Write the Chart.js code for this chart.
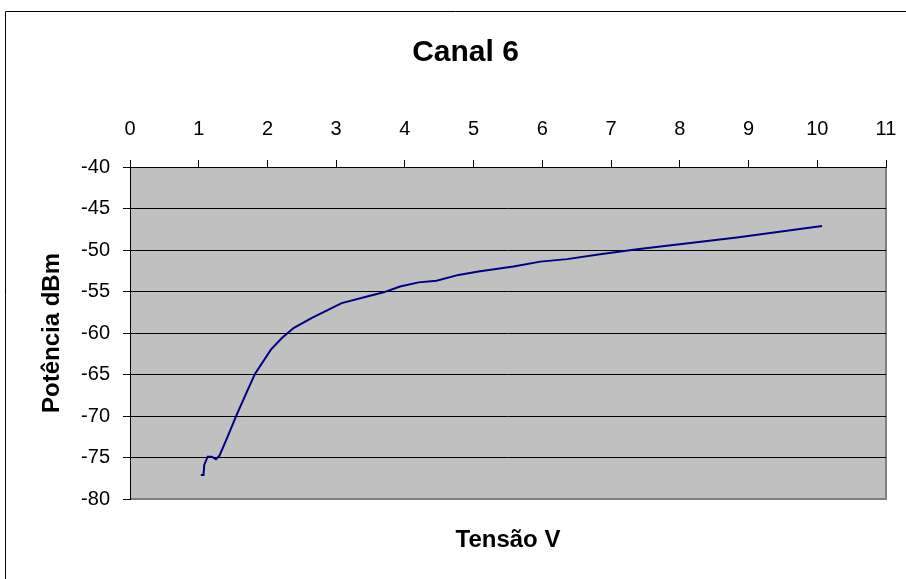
<!DOCTYPE html>
<html>
<head>
<meta charset="utf-8">
<script src="https://cdn.jsdelivr.net/npm/chart.js@4/dist/chart.umd.min.js"></script>
<style>
  html, body { margin: 0; padding: 0; background: #ffffff; }
  #wrap { width: 906px; height: 579px; position: relative; }
</style>
</head>
<body>
<div id="wrap"><canvas id="c" width="906" height="579"></canvas></div>
<script>
const chartTitle = "Canal 6";
const xTitle = "Tensão V";
const yTitle = "Potência dBm";
const tensao = [1.03, 1.07, 1.08, 1.13, 1.19, 1.25, 1.30, 1.41, 1.55, 1.70, 1.82, 2.05, 2.21, 2.38, 2.64, 3.08, 3.45, 3.69, 3.93, 4.20, 4.46, 4.78, 5.07, 5.58, 5.97, 6.36, 6.84, 7.38, 8.83, 10.07];
const potencia = [-77.1, -77.1, -75.9, -74.9, -74.9, -75.2, -74.8, -72.7, -69.9, -67.1, -64.9, -62.0, -60.6, -59.4, -58.2, -56.4, -55.6, -55.1, -54.4, -53.9, -53.7, -53.0, -52.6, -52.0, -51.4, -51.1, -50.5, -49.9, -48.5, -47.1];
const xMin = 0, xMax = 11, xStep = 1;
const yMin = -80, yMax = -40, yStep = 5;

const FONT = "'Liberation Sans', Arial, sans-serif";

const decor = {
  id: 'decor',
  beforeDraw(chart) {
    const ctx = chart.ctx;
    const a = chart.chartArea;
    ctx.save();
    ctx.strokeStyle = '#000';
    ctx.lineWidth = 1;
    ctx.beginPath();
    ctx.moveTo(5.5, 579);
    ctx.lineTo(5.5, 11.5);
    ctx.lineTo(906, 11.5);
    ctx.stroke();
    ctx.fillStyle = '#C0C0C0';
    ctx.fillRect(a.left, a.top, a.right - a.left, a.bottom - a.top);
    ctx.strokeStyle = '#808080';
    ctx.lineWidth = 2;
    ctx.beginPath();
    ctx.moveTo(a.left, a.bottom);
    ctx.lineTo(a.right, a.bottom);
    ctx.lineTo(a.right, a.top);
    ctx.stroke();
    ctx.restore();
  }
};

new Chart(document.getElementById('c'), {
  type: 'scatter',
  data: {
    datasets: [{
      data: tensao.map((v, i) => ({ x: v, y: potencia[i] })),
      showLine: true,
      borderColor: '#000080',
      backgroundColor: '#000080',
      borderWidth: 2,
      pointRadius: 0,
      tension: 0,
      xAxisID: 'x',
      yAxisID: 'y'
    }]
  },
  options: {
    responsive: false,
    animation: false,
    layout: { padding: { left: 0, right: -25, top: 0, bottom: 0 } },
    plugins: {
      legend: { display: false },
      tooltip: { enabled: false },
      title: {
        display: true,
        text: chartTitle,
        color: '#000',
        font: { family: FONT, size: 30, weight: 'bold' },
        padding: { top: 35, bottom: 8 }
      }
    },
    scales: {
      x: {
        type: 'linear',
        position: 'top',
        min: xMin, max: xMax,
        afterFit: s => { s.height = 88; s.paddingLeft = 0; s.paddingRight = 0; },
        ticks: { stepSize: xStep, color: '#000', padding: 18.5, font: { family: FONT, size: 20 }, maxRotation: 0 },
        grid: { drawOnChartArea: false, drawTicks: true, tickLength: 7, color: '#000' },
        border: { display: true, color: '#000', width: 1 }
      },
      x2: {
        type: 'linear',
        position: 'bottom',
        min: xMin, max: xMax,
        afterFit: s => { s.height = 80; s.paddingLeft = 0; s.paddingRight = 0; },
        ticks: { display: false },
        grid: { display: false },
        border: { display: false },
        title: {
          display: true,
          text: xTitle,
          color: '#000',
          font: { family: FONT, size: 24, weight: 'bold' },
          padding: { top: 0, bottom: 24.6 }
        }
      },
      y: {
        type: 'linear',
        position: 'left',
        min: yMin, max: yMax,
        afterFit: s => { s.width = 130; },
        ticks: { stepSize: yStep, color: '#000', padding: 13, font: { family: FONT, size: 20 } },
        grid: {
          color: c => (c.tick && c.tick.value === yMin) ? '#808080' : '#000',
          tickColor: '#000',
          tickLength: 7,
          lineWidth: 1
        },
        border: { display: true, color: '#000', width: 1 },
        title: {
          display: true,
          text: yTitle,
          color: '#000',
          font: { family: FONT, size: 24, weight: 'bold' },
          padding: { top: 37.6, bottom: 0 }
        }
      },
      yr: {
        type: 'linear',
        position: 'right',
        min: yMin, max: yMax,
        afterFit: s => { s.width = 45; },
        ticks: { display: false },
        grid: { display: false },
        border: { display: false }
      }
    }
  },
  plugins: [decor]
});
</script>
</body>
</html>
